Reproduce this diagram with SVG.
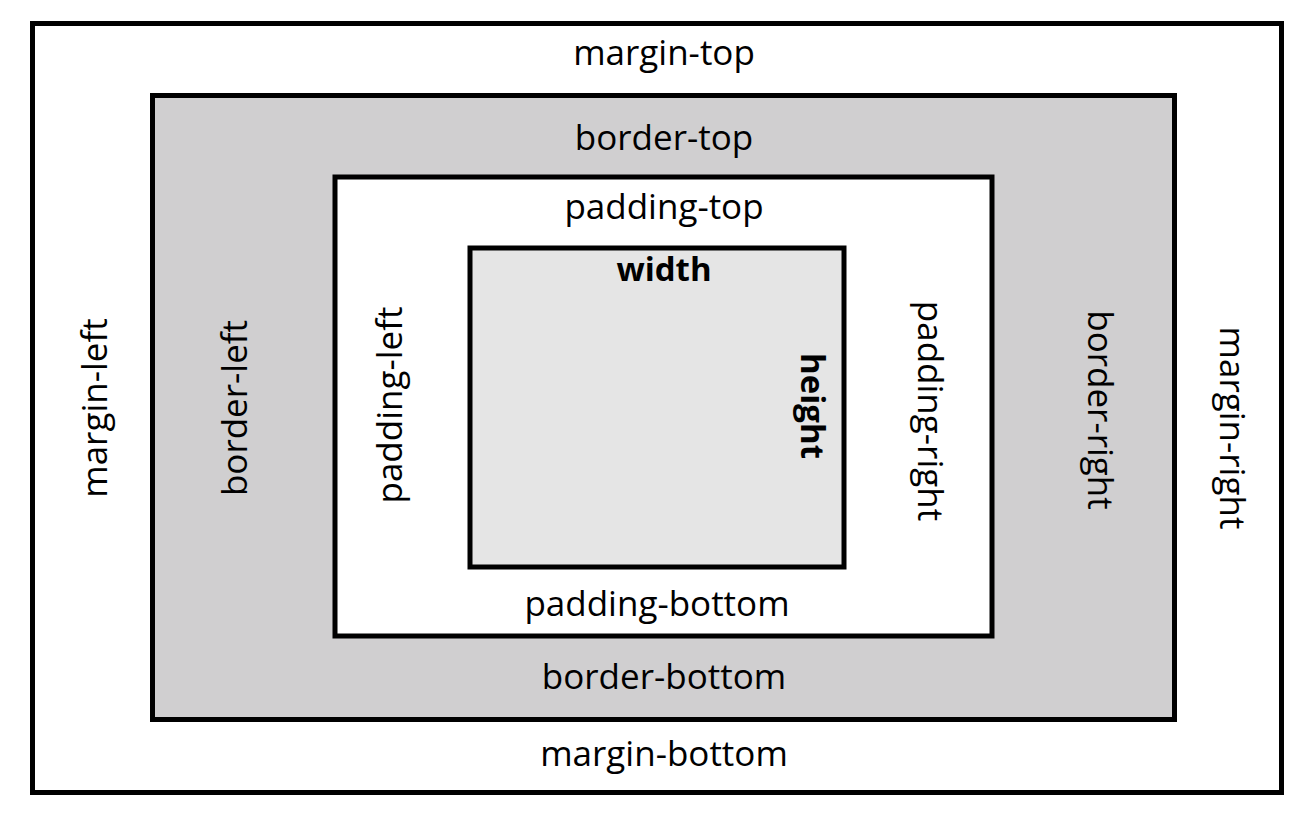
<svg xmlns="http://www.w3.org/2000/svg" width="1314" height="832" viewBox="0 0 1314 832">
<style>
.box{stroke:#000;stroke-width:5}
.t{font-family:"Open Sans","Noto Sans","Liberation Sans",sans-serif;font-size:35px;fill:#000;text-anchor:middle}
.b{font-weight:bold;font-size:33px}
</style>
<rect width="1314" height="832" fill="#fff"/>
<g id="margin">
<rect class="box" x="32.5" y="23.5" width="1249" height="769" fill="#fff"/>
<text class="t" x="664" y="65">margin-top</text>
<text class="t" x="664" y="766">margin-bottom</text>
<text class="t" transform="translate(107 408) rotate(-90)">margin-left</text>
<text class="t" transform="translate(1220 428) rotate(90)">margin-right</text>
</g>
<g id="border">
<rect class="box" x="152.5" y="95.5" width="1022" height="624" fill="#d0cfd0"/>
<text class="t" x="664" y="150">border-top</text>
<text class="t" x="664" y="689">border-bottom</text>
<text class="t" transform="translate(247 408) rotate(-90)">border-left</text>
<text class="t" transform="translate(1088 410) rotate(90)">border-right</text>
</g>
<g id="padding">
<rect class="box" x="335" y="177" width="657" height="459" fill="#fff"/>
<text class="t" x="664" y="219">padding-top</text>
<text class="t" x="657" y="616">padding-bottom</text>
<text class="t" transform="translate(402 405) rotate(-90)">padding-left</text>
<text class="t" transform="translate(918 411) rotate(90)">padding-right</text>
</g>
<g id="content">
<rect class="box" x="470" y="248" width="374" height="319" fill="#e5e5e5"/>
<text class="t b" x="664" y="281">width</text>
<text class="t b" transform="translate(801 406) rotate(90)">height</text>
</g>
<g id="connectors"/>
</svg>
